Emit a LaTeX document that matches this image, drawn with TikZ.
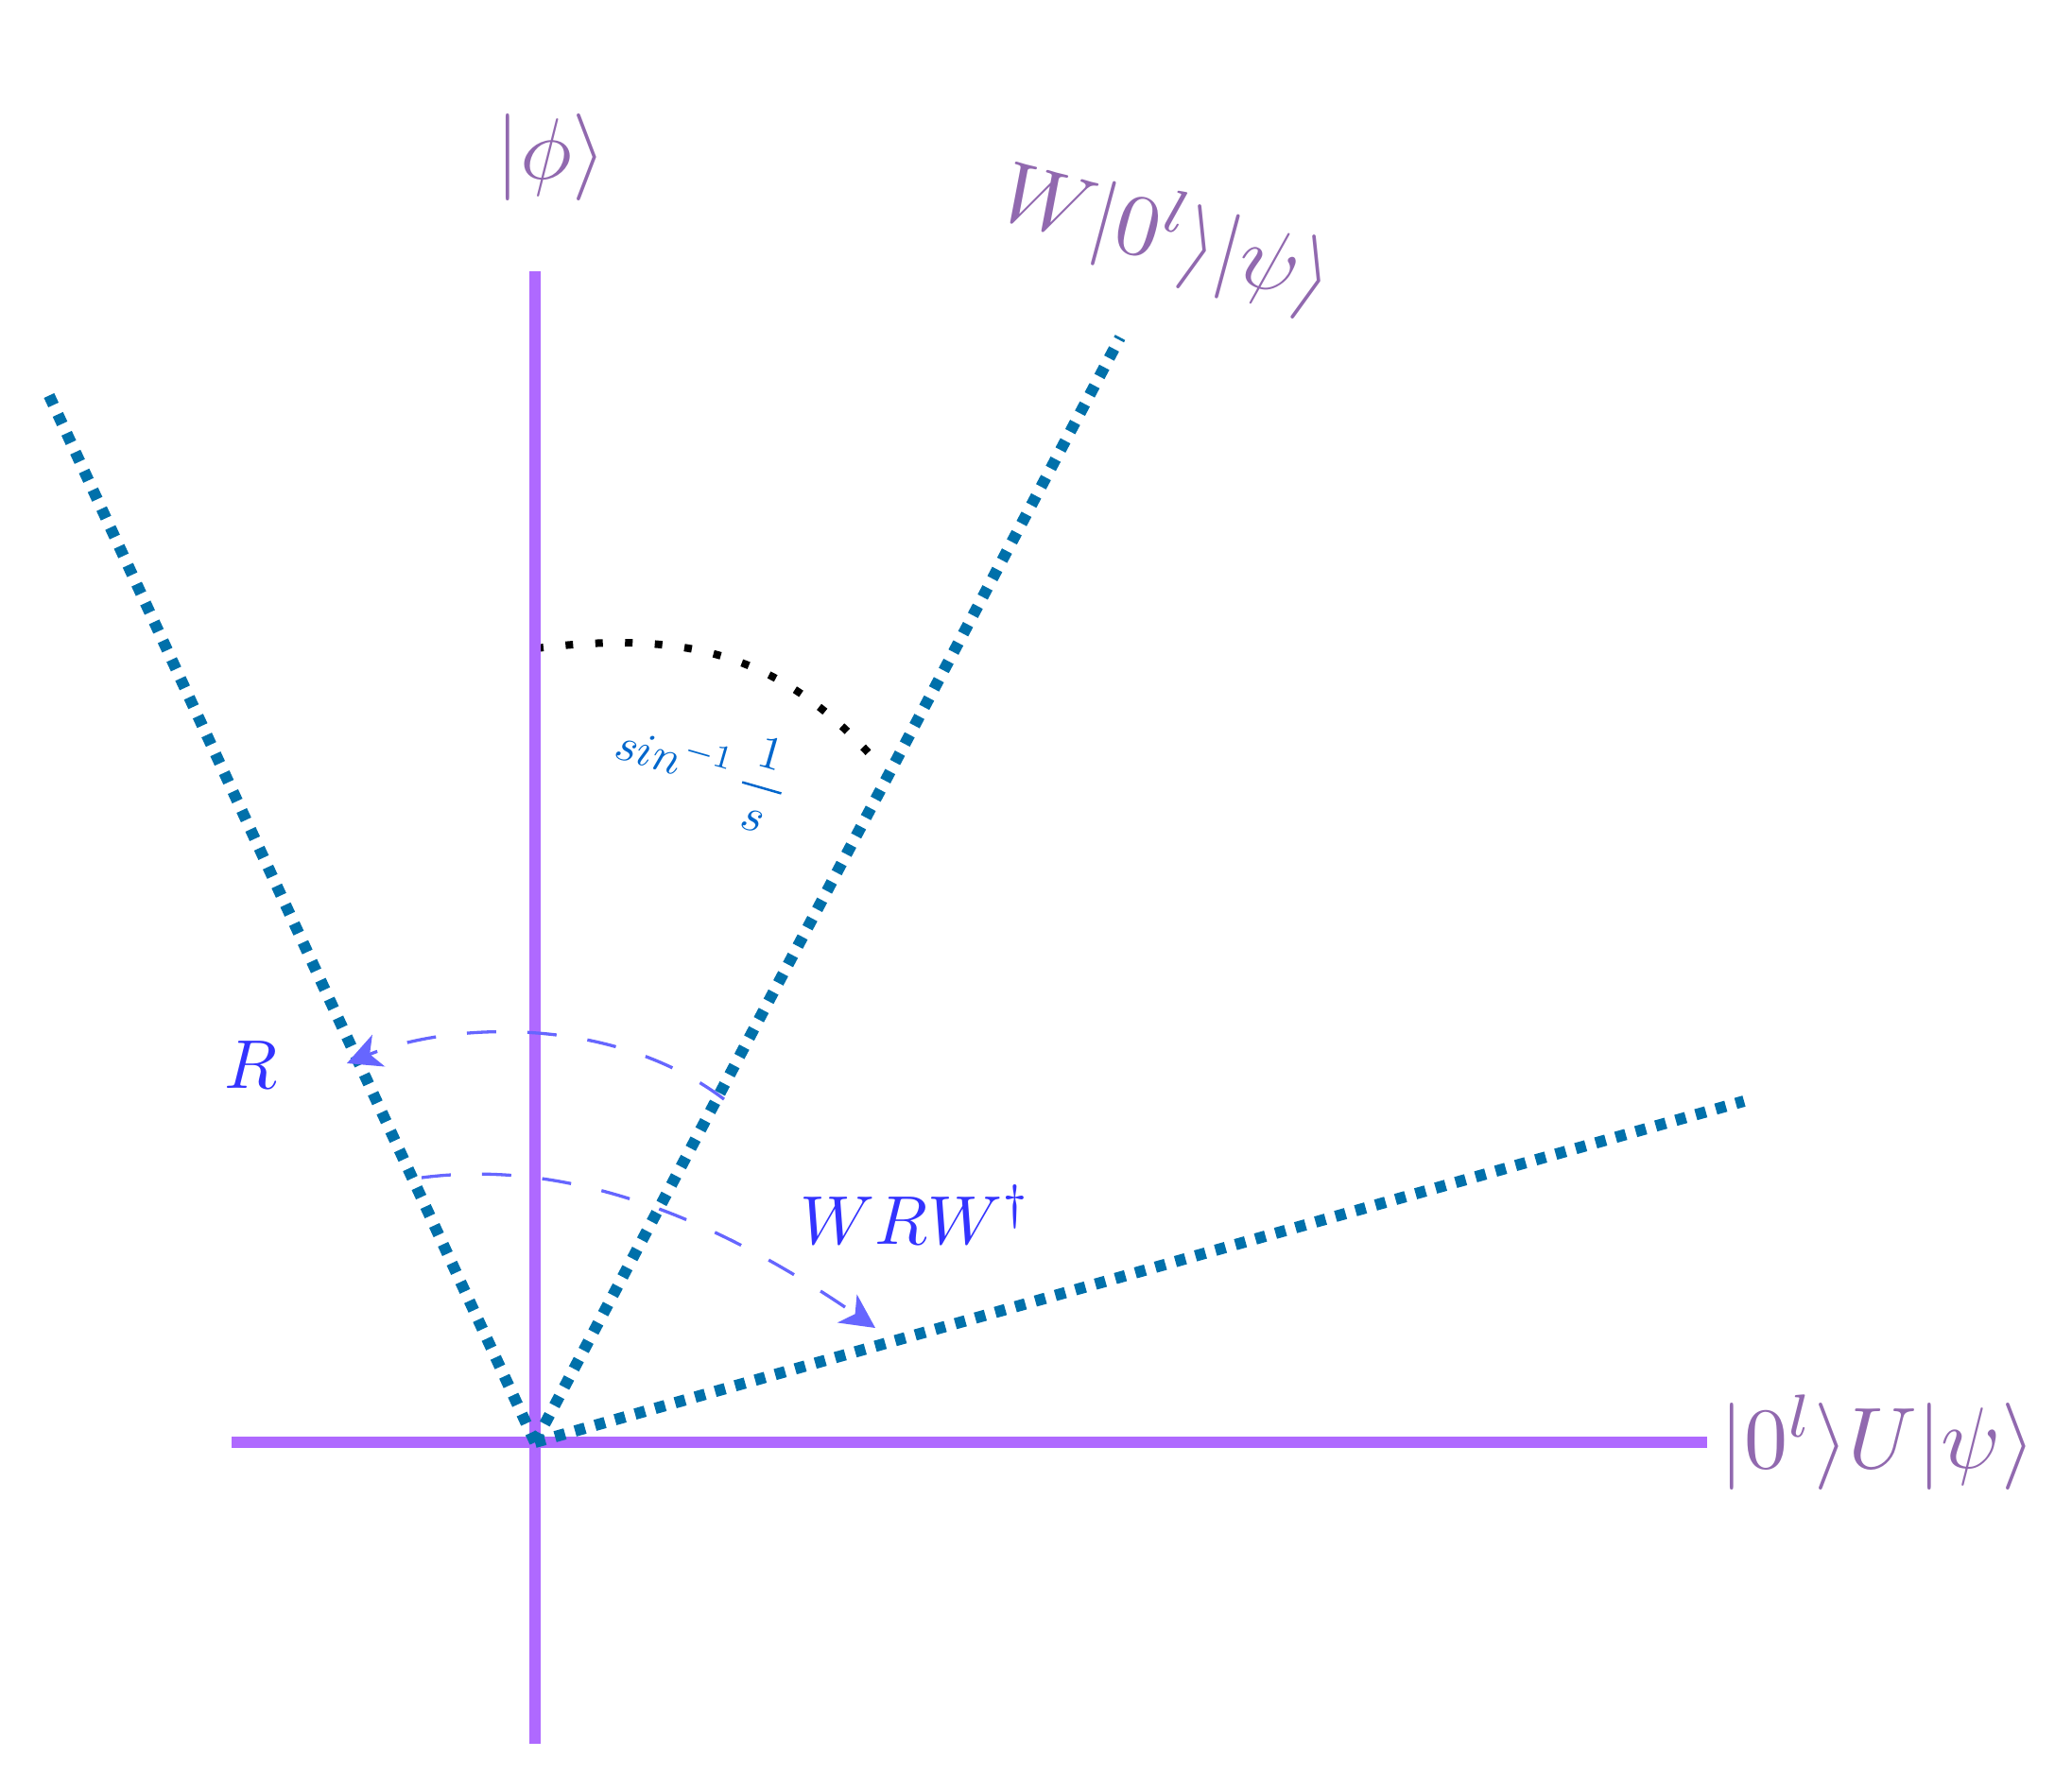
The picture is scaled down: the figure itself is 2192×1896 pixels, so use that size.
\documentclass[tikz,border=0pt]{standalone}
\usetikzlibrary{arrows.meta}
\definecolor{axiscol}{RGB}{175,105,255}
\definecolor{raycol}{RGB}{0,112,170}
\definecolor{lblcol}{RGB}{145,105,175}
\definecolor{opcol}{RGB}{51,51,255}
\definecolor{angcol}{RGB}{0,102,204}
\definecolor{rotcol}{RGB}{102,102,255}
\tikzset{
  axisline/.style={draw=axiscol, line width=6pt},
  rayline/.style={draw=raycol, line width=6pt, dash pattern=on 5.5pt off 5.5pt},
  anglearc/.style={draw=black, line width=4pt, dash pattern=on 4pt off 11.75pt},
  rotarc/.style={draw=rotcol, line width=1.65pt, dash pattern=on 15.5pt off 16.5pt,
    -{Stealth[length=18pt,width=18pt,inset=5pt]}},
  ketlbl/.style={text=lblcol, scale=4.6, inner sep=0pt},
  oplbl/.style={text=opcol, scale=3.65, inner sep=0pt},
  anglbl/.style={text=angcol, scale=2.5, inner sep=0pt},
}
\begin{document}
\begin{tikzpicture}[x=0.5pt,y=-0.5pt]
\useasboundingbox (0,0) rectangle (2192,1896);
% key points
\coordinate (O) at (566,1526);
\coordinate (vtop) at (566,287);
\coordinate (vbot) at (566,1845);
\coordinate (hleft) at (245,1526);
\coordinate (hright) at (1806,1526);
\coordinate (rayA) at (1185,357);
\coordinate (rayB) at (48,410);
\coordinate (rayC) at (1845,1165);
\coordinate (angS) at (567,686);
\coordinate (angE) at (922,800);
\coordinate (rS) at (766,1163);
\coordinate (rE) at (367,1125);
\coordinate (wS) at (446,1246);
\coordinate (wE) at (926,1405);
% angle arc
\draw[anglearc] (angS) .. controls (722,667) and (822,690) .. (angE);
% axes
\draw[axisline] (vbot) -- (vtop);
\draw[axisline] (hleft) -- (hright);
% rays
\draw[rayline] (O) -- (rayA);
\draw[rayline] (O) -- (rayB);
\draw[rayline] (O) -- (rayC);
% rotation arcs
\draw[rotarc] (rS) .. controls (650,1075) and (480,1080) .. (rE);
\draw[rotarc] (wS) .. controls (576,1229) and (726,1267) .. (wE);
% labels
\node[ketlbl] (phi) at (583,166) {$|\phi\rangle$};
\node[ketlbl, rotate=-15] (wket) at (1234,250) {$W|0^l\rangle|\psi\rangle$};
\node[ketlbl, anchor=west] (uket) at (1818,1526) {$|0^l\rangle U|\psi\rangle$};
\node[oplbl] (rlbl) at (265,1127) {$R$};
\node[oplbl, anchor=base west] (wrw) at (845,1316) {$WRW^\dagger$};
\node[anglbl, rotate=-16] (ang) at (743,812)
  {$\displaystyle sin^{-1}\,{\kern1.8pt 1\kern1.8pt \above 0.5pt s}$};
\end{tikzpicture}
\end{document}
